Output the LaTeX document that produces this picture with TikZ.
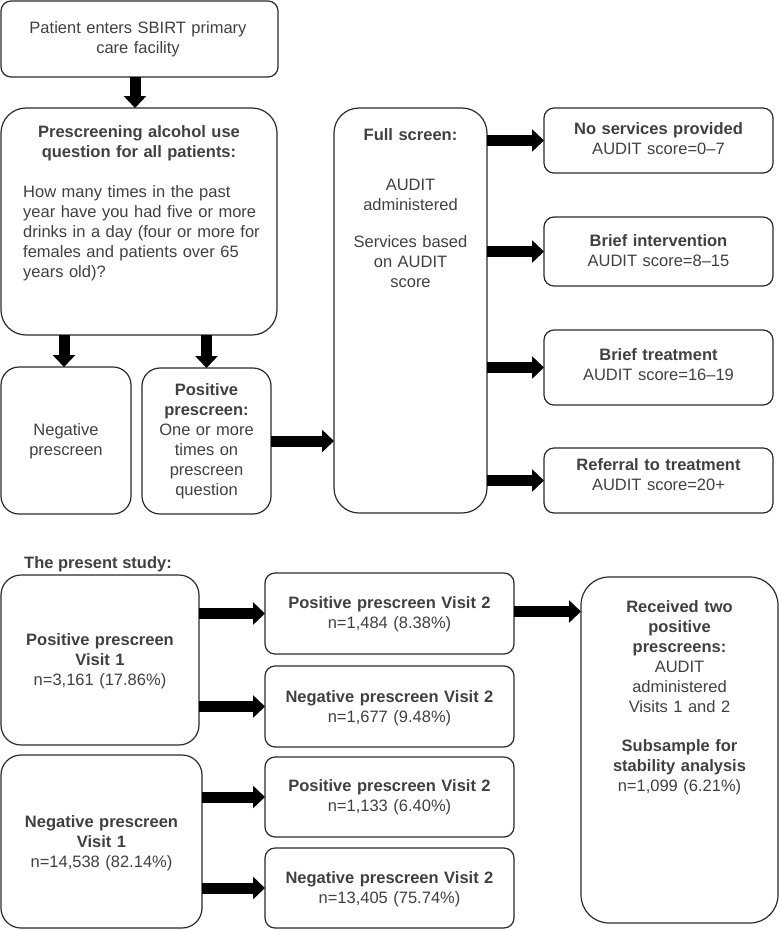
\documentclass[tikz,border=0pt]{standalone}
\usepackage{fontspec}
\setmainfont{Liberation Sans}
\usetikzlibrary{arrows.meta}
\definecolor{txtc}{HTML}{404040}
\definecolor{edgec}{HTML}{2A2A2A}
\newcommand\mkbox[6]{\node[box, rounded corners=#6, minimum width=#4-#2, minimum height=#5-#3] (#1) at (#2,#3) {};}
\begin{document}
\begin{tikzpicture}[x=1pt,y=-1pt,
  box/.style={draw=edgec, line width=1.2pt, rectangle, inner sep=0pt, outer sep=0pt, anchor=north west},
  txt/.style={text=txtc, inner sep=0pt, font=\fontsize{16.5}{20}\selectfont, align=center, anchor=base},
  arr/.style={draw=black, line width=11pt, -{Triangle[width=22pt,length=12pt]}}]
\useasboundingbox (0,0) rectangle (779,930);

% ---------- upper flow ----------
\mkbox{A}{1}{1}{278}{77}{10}
\mkbox{B}{1}{108}{277}{335}{25}
\mkbox{C}{1}{367}{131}{514}{18}
\mkbox{D}{142}{368}{271}{514}{18}
\mkbox{E}{334}{108}{487}{513}{25}
\mkbox{F1}{544}{108}{773}{173}{10}
\mkbox{F2}{544}{217}{773}{286}{10}
\mkbox{F3}{544}{330}{773}{405}{10}
\mkbox{F4}{544}{448}{773}{513}{10}

\node[txt, text width=260pt] (At) at (138,33.5) {Patient enters SBIRT primary\\care facility};
\node[txt, text width=260pt, font=\fontsize{16.5}{20}\selectfont\bfseries] (Bt1) at (139,137) {Prescreening alcohol use\\question for all patients:};
\node[txt, text width=252pt, align=left, anchor=base west] (Bt2) at (23,197) {How many times in the past\\year have you had five or more\\drinks in a day (four or more for\\females and patients over 65\\years old)?};
\node[txt, text width=125pt] (Ct) at (66,435) {Negative\\prescreen};
\node[txt, text width=125pt] (Dt) at (206.5,395) {\textbf{Positive}\\\textbf{prescreen:}\\One or more\\times on\\prescreen\\question};
\node[txt, text width=150pt, font=\fontsize{16.5}{20}\selectfont\bfseries] (Et1) at (410.5,140) {Full screen:};
\node[txt, text width=150pt] (Et2) at (410.5,190) {AUDIT\\administered};
\node[txt, text width=150pt] (Et3) at (410.5,247) {Services based\\on AUDIT\\score};
\node[txt, text width=225pt] (F1t) at (658.5,134) {\textbf{No services provided}\\AUDIT score=0–7};
\node[txt, text width=225pt] (F2t) at (658.5,246.5) {\textbf{Brief intervention}\\AUDIT score=8–15};
\node[txt, text width=225pt] (F3t) at (658.5,360) {\textbf{Brief treatment}\\AUDIT score=16–19};
\node[txt, text width=225pt] (F4t) at (658.5,470) {\textbf{Referral to treatment}\\AUDIT score=20+};

\draw[arr] ([xshift=-4.5pt]A.south) -- ([xshift=-4.5pt]A.south |- B.north);
\draw[arr] ([xshift=-2pt]C.north |- B.south) -- ([xshift=-2pt]C.north);
\draw[arr] (D.north |- B.south) -- (D.north);
\draw[arr] (D.east) -- (E.west |- D.east);
\draw[arr] (E.east |- F1.west) -- (F1.west);
\draw[arr] (E.east |- F2.west) -- (F2.west);
\draw[arr] (E.east |- F3.west) -- (F3.west);
\draw[arr] (E.east |- F4.west) -- (F4.west);

% ---------- present study ----------
\node[txt, anchor=base west, font=\fontsize{16.5}{20}\selectfont\bfseries] (St) at (24,568) {The present study:};
\mkbox{G}{1}{575}{199}{745}{20}
\mkbox{H}{1}{755}{202}{928}{20}
\mkbox{I1}{265}{573}{514}{654}{10}
\mkbox{I2}{265}{666}{514}{747}{10}
\mkbox{I3}{265}{757}{514}{837}{10}
\mkbox{I4}{265}{848}{514}{928}{10}
\mkbox{J}{581}{577}{778}{923}{28}

\node[txt, text width=195pt] (Gt) at (100,645) {\textbf{Positive prescreen}\\\textbf{Visit 1}\\n=3,161 (17.86\%)};
\node[txt, text width=198pt] (Ht) at (101.5,827) {\textbf{Negative prescreen}\\\textbf{Visit 1}\\n=14,538 (82.14\%)};
\node[txt, text width=245pt] (I1t) at (389.5,608) {\textbf{Positive prescreen Visit 2}\\n=1,484 (8.38\%)};
\node[txt, text width=245pt] (I2t) at (389.5,702) {\textbf{Negative prescreen Visit 2}\\n=1,677 (9.48\%)};
\node[txt, text width=245pt] (I3t) at (389.5,791) {\textbf{Positive prescreen Visit 2}\\n=1,133 (6.40\%)};
\node[txt, text width=245pt] (I4t) at (389.5,883) {\textbf{Negative prescreen Visit 2}\\n=13,405 (75.74\%)};
\node[txt, text width=195pt] (Jt1) at (679.5,612) {\textbf{Received two}\\\textbf{positive}\\\textbf{prescreens:}\\AUDIT\\administered\\Visits 1 and 2};
\node[txt, text width=195pt] (Jt2) at (679.5,751) {\textbf{Subsample for}\\\textbf{stability analysis}\\n=1,099 (6.21\%)};

\draw[arr] (G.east |- I1.west) -- (I1.west);
\draw[arr] (G.east |- I2.west) -- (I2.west);
\draw[arr] (H.east |- I3.west) -- (I3.west);
\draw[arr] (H.east |- I4.west) -- (I4.west);
\draw[arr] ([yshift=2pt]I1.east) -- ([yshift=2pt]J.west |- I1.east);
\end{tikzpicture}
\end{document}
